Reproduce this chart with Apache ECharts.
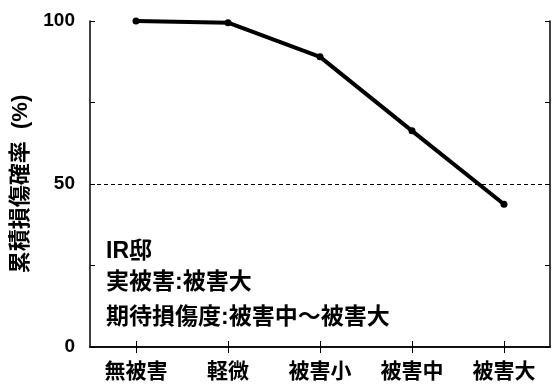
<!DOCTYPE html>
<html>
<head>
<meta charset="utf-8">
<script src="https://cdn.jsdelivr.net/npm/echarts@6/dist/echarts.min.js"></script>
<style>
  html, body { margin: 0; padding: 0; background: #fff; }
  #chart { width: 552px; height: 386px; }
</style>
</head>
<body>
<div id="chart"></div>
<script>
var categories = ['無被害', '軽微', '被害小', '被害中', '被害大'];
var probValues = [100, 99.5, 89, 66.3, 43.8];
var yTicks = [0, 50, 100];
var refLine = 50;
var notes = ['IR邸', '実被害:被害大', '期待損傷度:被害中～被害大'];
var noteY = [252, 283, 318];

var FONT = "'Liberation Sans', 'Noto Sans CJK JP', sans-serif";
var WEIGHT = 'bold';
var chart = echarts.init(document.getElementById('chart'));

var axisLine = { show: true, lineStyle: { color: '#000', width: 1.5 } };
var option = {
  backgroundColor: '#fff',
  animation: false,
  textStyle: { fontFamily: FONT, color: '#000' },
  grid: { left: 90, right: 2, top: 21, bottom: 39 },
  xAxis: [{
    type: 'category',
    data: categories,
    boundaryGap: true,
    axisLine: axisLine,
    axisTick: { show: true, inside: true, alignWithLabel: true, length: 6, lineStyle: { color: '#000' } },
    axisLabel: { color: '#000', fontSize: 21, margin: 15, fontFamily: FONT, fontWeight: WEIGHT },
    splitLine: { show: false }
  }, {
    type: 'category',
    data: categories,
    position: 'top',
    boundaryGap: true,
    axisLine: axisLine,
    axisTick: { show: true, inside: true, alignWithLabel: true, length: 6, lineStyle: { color: '#000' } },
    axisLabel: { show: false },
    splitLine: { show: false }
  }],
  yAxis: [{
    type: 'value',
    min: 0, max: 100, interval: 25,
    name: '累積損傷確率  (%)',
    nameLocation: 'middle',
    nameGap: 54,
    nameRotate: 90,
    nameTextStyle: { color: '#000', fontSize: 22, fontFamily: FONT, fontWeight: WEIGHT },
    axisLine: axisLine,
    axisTick: { show: true, inside: true, length: 5, lineStyle: { color: '#000' } },
    axisLabel: {
      color: '#000', fontSize: 19, margin: 15, fontFamily: FONT, fontWeight: WEIGHT,
      formatter: function (v) { return yTicks.indexOf(v) >= 0 ? String(v) : ''; }
    },
    splitLine: { show: false }
  }, {
    type: 'value',
    min: 0, max: 100, interval: 25,
    position: 'right',
    axisLine: axisLine,
    axisTick: { show: true, inside: true, length: 5, lineStyle: { color: '#000' } },
    axisLabel: { show: false },
    splitLine: { show: false }
  }],
  series: [{
    type: 'line',
    data: probValues,
    symbol: 'circle',
    symbolSize: 7,
    itemStyle: { color: '#000' },
    lineStyle: { color: '#000', width: 4 },
    markLine: {
      silent: true,
      symbol: 'none',
      label: { show: false },
      lineStyle: { color: '#000', type: [4, 3], width: 1 },
      data: [{ yAxis: refLine }]
    }
  }],
  graphic: notes.map(function (t, i) {
    return {
      type: 'text',
      x: 106,
      y: noteY[i],
      style: { text: t, fontSize: 23, fontFamily: FONT, fontWeight: WEIGHT, fill: '#000', verticalAlign: 'middle' }
    };
  })
};
chart.setOption(option);
</script>
</body>
</html>
